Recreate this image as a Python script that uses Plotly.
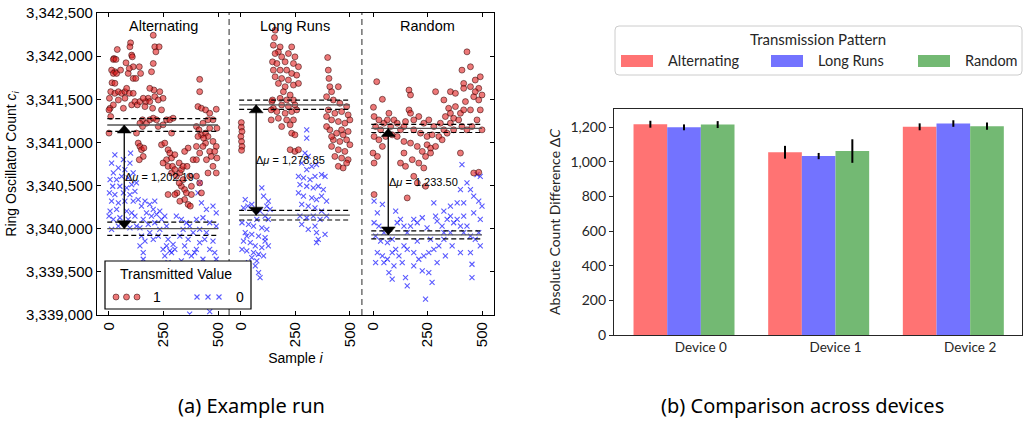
import plotly.graph_objects as go

W, H = 1027, 423

# ---------------- Panel (a): example run ----------------
panel_names = ["Alternating", "Long Runs", "Random"]
tick_samples = [0, 250, 500]

alt_one_sample = [99, 96, 38, 23, 20, 32, 78, 104, 107, 27,
                  12, 20, 35, 53, 14, 27, 8, 27, 43, 58,
                  73, 81, 73, 93, 111, 5, 20, 43, 66, 104,
                  119, 130, 142, 111, 123, 88, 111, 93, 139, 145,
                  195, 203, 206, 210, 203, 210, 230, 215, 187, 180,
                  169, 157, 165, 187, 200, 241, 248, 233, 226, 154,
                  142, 154, 126, 172, 187, 203, 218, 226, 248, 264,
                  279, 294, 287, 134, 142, 149, 160, 157, 139, 241,
                  256, 271, 279, 264, 248, 271, 287, 302, 291, 287,
                  302, 322, 309, 325, 332, 340, 332, 322, 312, 302,
                  271, 347, 355, 347, 363, 373, 325, 340, 358, 370,
                  386, 401, 363, 347, 416, 416, 408, 424, 443, 462,
                  492, 477, 454, 431, 401, 413, 424, 443, 454, 408,
                  462, 495, 477, 492, 443, 462, 485, 469, 495, 447,
                  477, 492, 454, 416, 401, 431, 434, 378, 378, 401,
                  416, 424, 0, 8, 2, 0]
alt_one_count = [3342154, 3342108, 3342077, 3341973, 3341962, 3341962, 3341923, 3342012, 3341992, 3341819,
                 3341838, 3341800, 3341800, 3341838, 3341692, 3341685, 3341588, 3341569, 3341588, 3341569,
                 3341588, 3341627, 3341512, 3341569, 3341569, 3341396, 3341435, 3341492, 3341396, 3341435,
                 3341473, 3341435, 3341473, 3341742, 3341742, 3341800, 3341877, 3341858, 3341877, 3341800,
                 3341819, 3341915, 3341608, 3341531, 3342242, 3342108, 3342108, 3342050, 3341627, 3341512,
                 3341473, 3341512, 3341415, 3341473, 3341396, 3341377, 3341512, 3341588, 3341492, 3341262,
                 3341223, 3341185, 3341108, 3341223, 3341262, 3341281, 3341262, 3341185, 3341204, 3341262,
                 3341262, 3341281, 3341108, 3340992, 3340954, 3340915, 3340935, 3340838, 3340800, 3340973,
                 3340992, 3340915, 3340877, 3340800, 3340762, 3340723, 3340819, 3340858, 3340723, 3340646,
                 3340685, 3340762, 3340608, 3340646, 3340685, 3340569, 3340492, 3340531, 3340415, 3340396,
                 3340396, 3340454, 3340415, 3340338, 3340281, 3340262, 3340319, 3340723, 3340723, 3340608,
                 3340800, 3340954, 3340935, 3340896, 3341731, 3341588, 3341415, 3341396, 3341377, 3341338,
                 3341385, 3341262, 3341262, 3341223, 3341185, 3341146, 3341088, 3341108, 3341069, 3341069,
                 3341165, 3341165, 3341012, 3340954, 3340992, 3340896, 3340896, 3340838, 3340819, 3340800,
                 3340723, 3340646, 3340646, 3340877, 3340800, 3340954, 3341050, 3340492, 3340396, 3340608,
                 3340531, 3340415, 3341377, 3341300, 3341512, 3341108]

alt_zero_sample = [27, 99, 66, 12, 43, 20, 73, 96, 5, 35,
                   58, 88, 111, 17, 50, 81, 104, 126, 2, 27,
                   66, 96, 119, 12, 43, 73, 111, 134, 5, 35,
                   81, 104, 20, 50, 0, 88, 119, 43, 12, 96,
                   126, 149, 165, 187, 203, 210, 172, 195, 218, 233,
                   157, 142, 180, 210, 241, 256, 264, 233, 187, 149,
                   165, 142, 157, 203, 226, 248, 264, 279, 294, 287,
                   256, 302, 271, 157, 309, 332, 355, 340, 370, 325,
                   363, 386, 347, 393, 378, 401, 416, 408, 424, 447,
                   477, 492, 431, 462, 492, 447, 416, 439, 477, 462,
                   485, 492, 431, 401, 416, 477, 462, 370, 439, 500,
                   271, 241, 332, 355]
alt_zero_count = [3340857, 3340877, 3340800, 3340761, 3340704, 3340646, 3340684, 3340761, 3340569, 3340569,
                  3340607, 3340588, 3340646, 3340492, 3340492, 3340473, 3340511, 3340531, 3340415, 3340396,
                  3340415, 3340396, 3340434, 3340319, 3340300, 3340319, 3340319, 3340338, 3340204, 3340223,
                  3340204, 3340184, 3340107, 3340127, 3340146, 3340107, 3340146, 3340030, 3339992, 3340011,
                  3340030, 3340261, 3340319, 3340281, 3340223, 3340319, 3340184, 3340146, 3340165, 3340204,
                  3340107, 3340011, 3340050, 3340069, 3340107, 3340146, 3340030, 3339992, 3339954, 3339915,
                  3339857, 3339800, 3339723, 3339877, 3339915, 3339761, 3339800, 3339742, 3339819, 3339723,
                  3339684, 3339761, 3339877, 3339646, 3340146, 3340107, 3340069, 3339992, 3340030, 3339915,
                  3339877, 3339954, 3339800, 3339723, 3339684, 3339761, 3340531, 3340415, 3340300, 3340223,
                  3340261, 3340184, 3340127, 3340069, 3340030, 3339954, 3339992, 3339877, 3339857, 3339761,
                  3339723, 3339646, 3339646, 3340107, 3339838, 3339531, 3339038, 3339011, 3339415, 3339569,
                  3339607, 3339588, 3339627, 3339723]

long_one_sample = [2, 2, 5, 0, 3, 5, 3, 157, 154, 149,
                   180, 172, 233, 157, 187, 218, 248, 145, 165, 203,
                   241, 264, 149, 180, 210, 233, 256, 157, 187, 218,
                   172, 203, 241, 264, 195, 226, 180, 210, 241, 142,
                   149, 187, 218, 248, 165, 203, 233, 256, 139, 172,
                   210, 241, 187, 226, 233, 248, 226, 248, 264, 139,
                   145, 398, 401, 404, 408, 416, 447, 393, 424, 454,
                   485, 401, 431, 462, 492, 416, 447, 477, 500, 408,
                   439, 469, 492, 424, 454, 485, 500, 416, 447, 477,
                   431, 462, 492, 447, 469, 485, 393, 393, 416, 462]
long_one_count = [3341230, 3341177, 3341127, 3341069, 3341011, 3340954, 3340908, 3342300, 3342215, 3342127,
                  3342107, 3342050, 3342107, 3342030, 3341992, 3342030, 3341992, 3341934, 3341915, 3341934,
                  3341915, 3341877, 3341838, 3341838, 3341838, 3341800, 3341780, 3341761, 3341742, 3341723,
                  3341684, 3341646, 3341665, 3341684, 3341588, 3341550, 3341511, 3341492, 3341492, 3341473,
                  3341396, 3341434, 3341415, 3341434, 3341357, 3341338, 3341357, 3341377, 3341261, 3341280,
                  3341261, 3341261, 3341184, 3341204, 3341107, 3341088, 3340915, 3340896, 3340915, 3341377,
                  3341492, 3341984, 3341838, 3341742, 3341646, 3341588, 3341646, 3341530, 3341492, 3341454,
                  3341415, 3341377, 3341338, 3341357, 3341319, 3341261, 3341242, 3341223, 3341261, 3341146,
                  3341107, 3341088, 3341127, 3341030, 3341011, 3341030, 3340973, 3340954, 3340915, 3340896,
                  3340838, 3340819, 3340800, 3340723, 3340704, 3340761, 3341184, 3341300, 3341069, 3341146]

long_zero_sample = [20, 12, 32, 50, 96, 104, 126, 119, 88, 111,
                    73, 126, 5, 35, 58, 96, 119, 20, 50, 81,
                    111, 12, 43, 66, 96, 27, 58, 81, 50, 73,
                    35, 66, 81, 88, 126, 104, 5, 27, 134, 111,
                    302, 302, 294, 309, 279, 325, 347, 302, 264, 287,
                    317, 340, 370, 386, 271, 302, 332, 355, 378, 264,
                    287, 325, 347, 370, 393, 279, 309, 340, 370, 271,
                    302, 332, 363, 393, 279, 340, 347, 355, 386, 347, 309]
long_zero_count = [3340338, 3340242, 3340261, 3340281, 3340473, 3340377, 3340319, 3340261, 3340204, 3340146,
                   3340107, 3340107, 3340069, 3340050, 3340030, 3340011, 3339992, 3339954, 3339934, 3339915,
                   3339896, 3339857, 3339838, 3339800, 3339780, 3339742, 3339723, 3339704, 3339665, 3339627,
                   3339607, 3339569, 3339492, 3339434, 3339800, 3339684, 3339761, 3339915, 3340223, 3339857,
                   3341146, 3341050, 3340877, 3340838, 3340761, 3340723, 3340742, 3340684, 3340607, 3340588,
                   3340569, 3340607, 3340627, 3340607, 3340511, 3340492, 3340473, 3340492, 3340454, 3340415,
                   3340377, 3340357, 3340338, 3340377, 3340319, 3340281, 3340261, 3340242, 3340204, 3340146,
                   3340127, 3340146, 3340107, 3340146, 3340050, 3340030, 3339954, 3339877, 3339934, 3339838, 3339992]

rand_one_sample = [2, 17, 43, 5, 27, 12, 35, 50, 73, 66,
                   5, 27, 0, 20, 5, 43, 58, 81, 96, 111,
                   88, 111, 126, 142, 149, 165, 172, 165, 172, 187,
                   210, 233, 256, 279, 187, 218, 248, 271, 142, 172,
                   203, 226, 248, 264, 142, 126, 149, 180, 210, 233,
                   241, 264, 287, 187, 203, 241, 157, 5, 287, 325,
                   355, 347, 378, 332, 355, 370, 401, 416, 424, 447,
                   462, 485, 500, 492, 477, 454, 431, 408, 393, 309,
                   325, 302, 370, 401, 416, 408, 431, 447, 469, 492,
                   416, 447, 469, 485, 500, 317, 340, 355, 378, 462, 485]
rand_one_count = [3341407, 3341704, 3341500, 3341300, 3341261, 3341184, 3341146, 3341223, 3341338, 3341261,
                  3341069, 3341030, 3340877, 3340838, 3340761, 3340954, 3341069, 3341184, 3341261, 3341223,
                  3341088, 3341069, 3341146, 3341184, 3341242, 3341377, 3341338, 3341607, 3341550, 3341261,
                  3341300, 3341223, 3341261, 3341184, 3341146, 3341107, 3341069, 3341088, 3341011, 3340992,
                  3340954, 3340896, 3340973, 3340934, 3340877, 3340761, 3340723, 3340800, 3340761, 3340704,
                  3340838, 3340877, 3340954, 3340607, 3340531, 3340492, 3340357, 3340396, 3341588, 3341492,
                  3341588, 3341396, 3341415, 3341300, 3341223, 3341280, 3341338, 3341377, 3341473, 3341377,
                  3341530, 3341627, 3341550, 3341377, 3341261, 3341184, 3341146, 3341184, 3341261, 3341223,
                  3341146, 3341069, 3341146, 3340877, 3341684, 3341838, 3342050, 3341877, 3341723, 3341761,
                  3341627, 3341646, 3341588, 3341492, 3341146, 3341030, 3341107, 3341338, 3341569, 3340646, 3340654]

rand_zero_sample = [5, 43, 20, 5, 27, 50, 12, 35, 66, 88,
                    104, 111, 126, 142, 157, 172, 187, 203, 226, 248,
                    279, 287, 294, 317, 340, 355, 370, 386, 401, 416,
                    431, 447, 469, 485, 492, 386, 355, 325, 416, 462,
                    20, 43, 66, 88, 104, 119, 134, 96, 73, 50,
                    12, 157, 187, 210, 233, 256, 279, 302, 325, 187,
                    226, 256, 271, 149, 157, 88, 241, 332, 363, 401,
                    447, 454, 454, 492, 294, 203, 264, 142, 325, 355,
                    408, 477, 492, 431, 447, 401, 462, 485, 416, 500]
rand_zero_count = [3340319, 3340281, 3340184, 3340069, 3340030, 3339954, 3339915, 3339857, 3339838, 3339877,
                   3340204, 3340069, 3340107, 3340030, 3339954, 3340030, 3340107, 3340069, 3340127, 3340011,
                   3340300, 3340146, 3340088, 3340030, 3340107, 3340146, 3340069, 3340107, 3340030, 3339954,
                   3340030, 3339915, 3339877, 3339954, 3340107, 3340300, 3340261, 3340204, 3340146, 3340184,
                   3339723, 3339684, 3339646, 3339723, 3339761, 3339684, 3339607, 3339569, 3339492, 3339607,
                   3339607, 3339761, 3339723, 3339646, 3339684, 3339723, 3339761, 3339800, 3339877, 3339569,
                   3339511, 3339492, 3339377, 3339434, 3339338, 3339415, 3339184, 3339684, 3339800, 3339723,
                   3339723, 3339588, 3339434, 3339800, 3339607, 3339857, 3339877, 3339800, 3339954, 3339954,
                   3340742, 3340627, 3340607, 3340531, 3340454, 3340454, 3340377, 3340319, 3340300, 3340261]

mean_one = [3341202, 3341436, 3341162]
mean_zero = [3340000, 3340157, 3339928]
spread_one = [75, 54, 47]
spread_zero = [77, 56, 46]
delta_labels = ["1,202.19", "1,278.85", "1,233.50"]
arrow_sample = 70

# ---------------- Panel (b): comparison across devices ----------------
devices = ["Device 0", "Device 1", "Device 2"]
patterns = ["Alternating", "Long Runs", "Random"]
diff_alternating = [1218, 1056, 1203]
diff_long_runs = [1200, 1034, 1222]
diff_random = [1216, 1063, 1207]
err_alternating = [20, 37, 20]
err_long_runs = [17, 18, 19]
err_random = [20, 68, 21]

# ---------------- layout helpers ----------------
panel_offset = [0, 605, 1211]
divider_x = [551, 1160]
colors = ["#FF7373", "#7373FF", "#73B973"]
FONT_A = "Liberation Sans"
FONT_B = "Lato"
DARK = "#262626"


def px(x):
    return x / W


def py(y):
    return 1 - y / H


fig = go.Figure()

series_one = [(alt_one_sample, alt_one_count), (long_one_sample, long_one_count), (rand_one_sample, rand_one_count)]
series_zero = [(alt_zero_sample, alt_zero_count), (long_zero_sample, long_zero_count), (rand_zero_sample, rand_zero_count)]

for k in range(3):
    zs, zc = series_zero[k]
    fig.add_trace(go.Scatter(
        x=[s + panel_offset[k] for s in zs], y=zc, mode="markers",
        marker=dict(symbol="x-thin", size=5, line=dict(color="rgba(0,0,255,0.65)", width=1.1)),
        showlegend=False, hoverinfo="skip", xaxis="x", yaxis="y"))
for k in range(3):
    os_, oc = series_one[k]
    fig.add_trace(go.Scatter(
        x=[s + panel_offset[k] for s in os_], y=oc, mode="markers",
        marker=dict(symbol="circle", size=6, color="rgba(225,30,30,0.6)",
                    line=dict(color="rgba(40,0,0,0.75)", width=0.7)),
        showlegend=False, hoverinfo="skip", xaxis="x", yaxis="y"))

# bars
bar_series = [(diff_alternating, err_alternating), (diff_long_runs, err_long_runs), (diff_random, err_random)]
bar_shift = [-0.375, -0.125, 0.125]
for j in range(3):
    vals, errs = bar_series[j]
    fig.add_trace(go.Bar(
        x=[i + bar_shift[j] for i in range(len(devices))], y=vals, width=0.25,
        marker=dict(color=colors[j], line=dict(width=0)),
        error_y=dict(type="data", array=errs, color="black", thickness=2, width=0),
        name=patterns[j], showlegend=False, xaxis="x2", yaxis="y2"))

shapes = []
annotations = []

# dividers
for dx in divider_x:
    shapes.append(dict(type="line", xref="x", yref="y domain", x0=dx, x1=dx, y0=0, y1=1,
                       line=dict(color="#666666", width=1.4, dash="6px,4px")))

for k in range(3):
    off = panel_offset[k]
    for m, sp in ((mean_one[k], spread_one[k]), (mean_zero[k], spread_zero[k])):
        shapes.append(dict(type="line", xref="x", yref="y", x0=off - 8, x1=off + 500, y0=m, y1=m,
                           line=dict(color="#555555", width=1.3)))
        for sgn in (1, -1):
            shapes.append(dict(type="line", xref="x", yref="y", x0=off - 8, x1=off + 500,
                               y0=m + sgn * sp, y1=m + sgn * sp,
                               line=dict(color="black", width=1.2, dash="5px,3px")))
    mid = (mean_one[k] + mean_zero[k]) / 2
    ax_x = off + arrow_sample
    # double-headed arrow between the two means
    shapes.append(dict(type="line", xref="x", yref="y", x0=ax_x, x1=ax_x, y0=mean_zero[k], y1=mean_one[k],
                       line=dict(color="black", width=1.3)))
    shapes.append(dict(type="path", xref="x", yref="y", xsizemode="pixel", ysizemode="pixel",
                       xanchor=ax_x, yanchor=mean_one[k], path="M-7,-8 L7,-8 L0,0 Z",
                       fillcolor="black", line=dict(color="black", width=0.5)))
    shapes.append(dict(type="path", xref="x", yref="y", xsizemode="pixel", ysizemode="pixel",
                       xanchor=ax_x, yanchor=mean_zero[k], path="M-7,8 L7,8 L0,0 Z",
                       fillcolor="black", line=dict(color="black", width=0.5)))
    annotations.append(dict(xref="x", yref="y", x=ax_x - 8, y=mid, xanchor="left",
                            yanchor="middle", showarrow=False,
                            text="Δ<i>μ</i> = " + delta_labels[k],
                            font=dict(family=FONT_A, size=11, color="black")))
    annotations.append(dict(xref="x", yref="paper", x=off + 250, y=py(26), xanchor="center",
                            yanchor="middle", showarrow=False, text=panel_names[k],
                            font=dict(family=FONT_A, size=14.5, color="black")))

# legend (a)
shapes.append(dict(type="rect", xref="paper", yref="paper", x0=px(105), x1=px(251), y0=py(309), y1=py(261),
                   fillcolor="white", line=dict(color="black", width=1.2), layer="above"))
annotations.append(dict(xref="paper", yref="paper", x=px(118), y=py(274), xanchor="left", yanchor="middle",
                        showarrow=False, text="Transmitted Value",
                        font=dict(family=FONT_A, size=14, color="black")))
for cx in (116, 126.5, 137):
    shapes.append(dict(type="circle", xref="paper", yref="paper", xsizemode="pixel", ysizemode="pixel",
                       xanchor=px(cx), yanchor=py(297), x0=-3, x1=3, y0=-3, y1=3,
                       fillcolor="rgba(225,30,30,0.6)", line=dict(color="rgba(40,0,0,0.75)", width=0.7),
                       layer="above"))
for cx in (197, 208, 219):
    shapes.append(dict(type="path", xref="paper", yref="paper", xsizemode="pixel", ysizemode="pixel",
                       xanchor=px(cx), yanchor=py(297), path="M-2.5,-2.5L2.5,2.5M-2.5,2.5L2.5,-2.5",
                       line=dict(color="rgba(0,0,255,0.65)", width=1.1), layer="above"))
annotations.append(dict(xref="paper", yref="paper", x=px(157), y=py(297), xanchor="center", yanchor="middle",
                        showarrow=False, text="1", font=dict(family=FONT_A, size=14, color="black")))
annotations.append(dict(xref="paper", yref="paper", x=px(240), y=py(297), xanchor="center", yanchor="middle",
                        showarrow=False, text="0", font=dict(family=FONT_A, size=14, color="black")))

# legend (b)
x0, x1, y0, y1 = px(615), px(1022), py(75), py(26)
rx, ry = 4 / W, 4 / H
path = (f"M{x0+rx},{y1} L{x1-rx},{y1} Q{x1},{y1} {x1},{y1-ry} L{x1},{y0+ry} Q{x1},{y0} {x1-rx},{y0} "
        f"L{x0+rx},{y0} Q{x0},{y0} {x0},{y0+ry} L{x0},{y1-ry} Q{x0},{y1} {x0+rx},{y1} Z")
shapes.append(dict(type="path", xref="paper", yref="paper", path=path, fillcolor="white",
                   line=dict(color="#cccccc", width=1)))
annotations.append(dict(xref="paper", yref="paper", x=px(818), y=py(39), xanchor="center", yanchor="middle",
                        showarrow=False, text="Transmission Pattern",
                        font=dict(family=FONT_B, size=15, color=DARK)))
patch_x = [621, 771, 918]
label_x = [666, 816, 963]
for j in range(3):
    shapes.append(dict(type="rect", xref="paper", yref="paper", x0=px(patch_x[j]), x1=px(patch_x[j] + 32),
                       y0=py(67), y1=py(55), fillcolor=colors[j], line=dict(width=0)))
    annotations.append(dict(xref="paper", yref="paper", x=px(label_x[j]), y=py(61), xanchor="left",
                            yanchor="middle", showarrow=False, text=patterns[j],
                            font=dict(family=FONT_B, size=14.5, color=DARK)))

# captions
annotations.append(dict(xref="paper", yref="paper", x=px(251), y=py(405), xanchor="center", yanchor="middle",
                        showarrow=False, text="(a) Example run",
                        font=dict(family="Noto Sans", size=20, color="black")))
annotations.append(dict(xref="paper", yref="paper", x=px(802), y=py(405), xanchor="center", yanchor="middle",
                        showarrow=False, text="(b) Comparison across devices",
                        font=dict(family="Noto Sans", size=20, color="black")))

tickvals_a = [s + off for off in panel_offset for s in tick_samples]
ticktext_a = [str(s) for off in panel_offset for s in tick_samples]

fig.update_layout(
    width=W, height=H, margin=dict(l=0, r=0, t=0, b=0, autoexpand=False),
    paper_bgcolor="white", plot_bgcolor="white", barmode="overlay",
    shapes=shapes, annotations=annotations,
    xaxis=dict(domain=[px(97), px(494)], range=[-55, 1766], anchor="y", automargin=False,
               tickvals=tickvals_a, ticktext=ticktext_a, tickangle=-90,
               ticks="inside", ticklen=4, tickcolor="black", mirror="ticks",
               showline=True, linecolor="black", linewidth=1.3, showgrid=False, zeroline=False,
               tickfont=dict(family=FONT_A, size=15, color="black"),
               title=dict(text="Sample <i>i</i>", standoff=7,
                          font=dict(family=FONT_A, size=14, color="black"))),
    yaxis=dict(domain=[py(315), py(13)], range=[3339000, 3342500], anchor="x", automargin=False,
               tickvals=[3339000 + 500 * i for i in range(8)], tickformat=",d",
               ticks="inside", ticklen=4, tickcolor="black", mirror="ticks",
               showline=True, linecolor="black", linewidth=1.3, showgrid=False, zeroline=False,
               tickfont=dict(family=FONT_A, size=15, color="black"),
               title=dict(text="Ring Oscillator Count <i>c<sub>i</sub></i>", standoff=6,
                          font=dict(family=FONT_A, size=14, color="black"))),
    xaxis2=dict(domain=[px(614), px(1022)], range=[-0.645, 2.385], anchor="y2", automargin=False,
                tickvals=list(range(len(devices))), ticktext=devices, ticks="",
                showline=True, linecolor=DARK, linewidth=1.2, mirror=True, showgrid=False, zeroline=False,
                tickfont=dict(family=FONT_B, size=13.5, color=DARK)),
    yaxis2=dict(domain=[py(335), py(109)], range=[0, 1306], anchor="x2", automargin=False,
                tickvals=[0, 200, 400, 600, 800, 1000, 1200], tickformat=",d",
                ticks="outside", ticklen=4, tickcolor=DARK,
                showline=True, linecolor=DARK, linewidth=1.2, mirror=True, showgrid=False, zeroline=False,
                tickfont=dict(family=FONT_B, size=14, color=DARK),
                title=dict(text="Absolute Count Difference Δ<i>C</i>", standoff=6,
                           font=dict(family=FONT_B, size=14, color=DARK))),
)

fig.write_html("out.html")
